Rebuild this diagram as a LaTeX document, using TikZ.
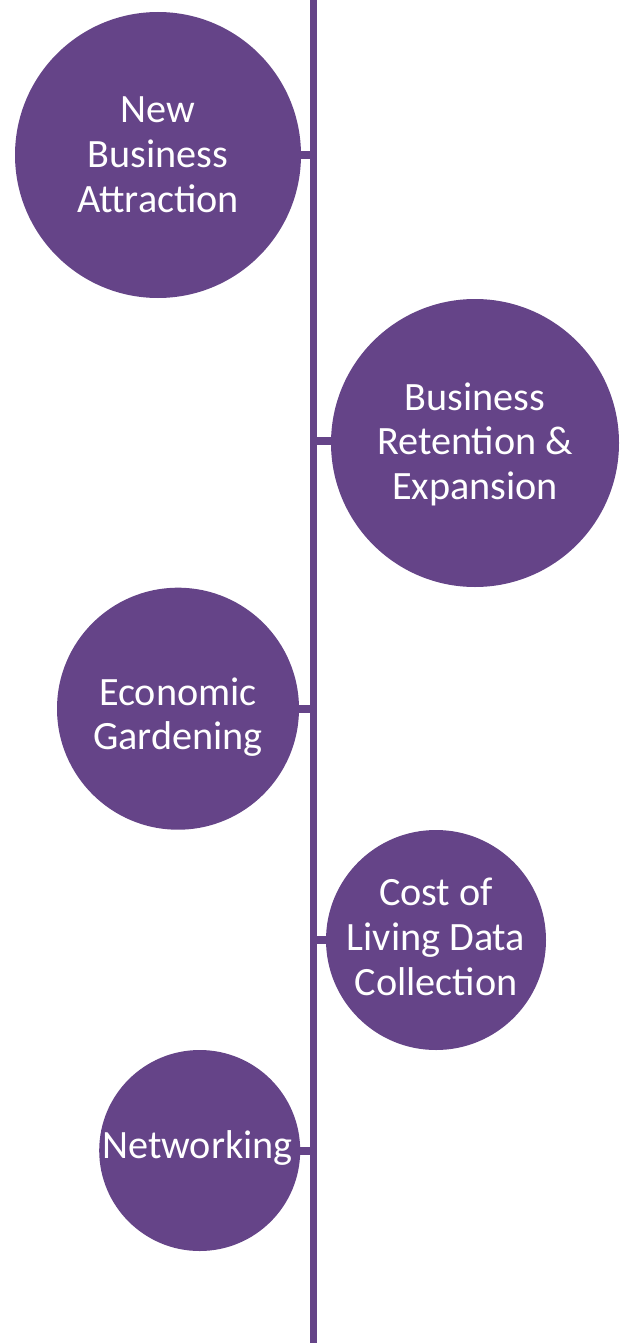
\documentclass[tikz,border=0pt]{standalone}
\usepackage{fontspec}
\setmainfont{Carlito}
\definecolor{purp}{RGB}{101,68,136}
\newcommand{\ctext}[1]{\vtop{\baselineskip=44.8pt\lineskiplimit=-100pt\halign{\hfil##\hfil\cr#1\cr}}}
\tikzset{
  bubble/.style={circle, fill=purp, draw=none, inner sep=0pt, minimum size=#1},
  btext/.style={anchor=base, inner sep=0pt, text=white, font=\fontsize{40.2}{44.8}\selectfont},
  spine/.style={draw=purp, line width=7.5pt},
  tick/.style={draw=purp, line width=8pt}
}
\begin{document}
\begin{tikzpicture}[x=1pt,y=-1pt]
\useasboundingbox (0,0) rectangle (626,1343);
\coordinate (stop) at (313.7,0);
\coordinate (sbot) at (313.7,1343);
\draw[spine] (stop) -- (sbot);
\node[bubble=286pt] (c1) at (158,155) {};
\node[bubble=288pt] (c2) at (475,443) {};
\node[bubble=242pt] (c3) at (178,708.7) {};
\node[bubble=220pt] (c4) at (436,940) {};
\node[bubble=201pt] (c5) at (199.7,1150.5) {};
\coordinate (k2) at ([yshift=2.5pt]c2.west);
\draw[tick] (c1.east) -- (c1.east -| stop);
\draw[tick] (k2) -- (k2 -| stop);
\draw[tick] (c3.east) -- (c3.east -| stop);
\draw[tick] (c4.west) -- (c4.west -| stop);
\draw[tick] (c5.east) -- (c5.east -| stop);
\node[btext] (t1) at (158,123) {\ctext{New\cr Business\cr Attraction}};
\node[btext] (t2) at (475,410) {\ctext{Business\cr Retention \&\cr Expansion}};
\node[btext] (t3) at (178,705) {\ctext{Economic\cr Gardening}};
\node[btext] (t4) at (436,905.7) {\ctext{Cost of\cr Living Data\cr Collection}};
\node[btext] (t5) at (197.5,1158.3) {\ctext{Networking}};
\end{tikzpicture}
\end{document}
